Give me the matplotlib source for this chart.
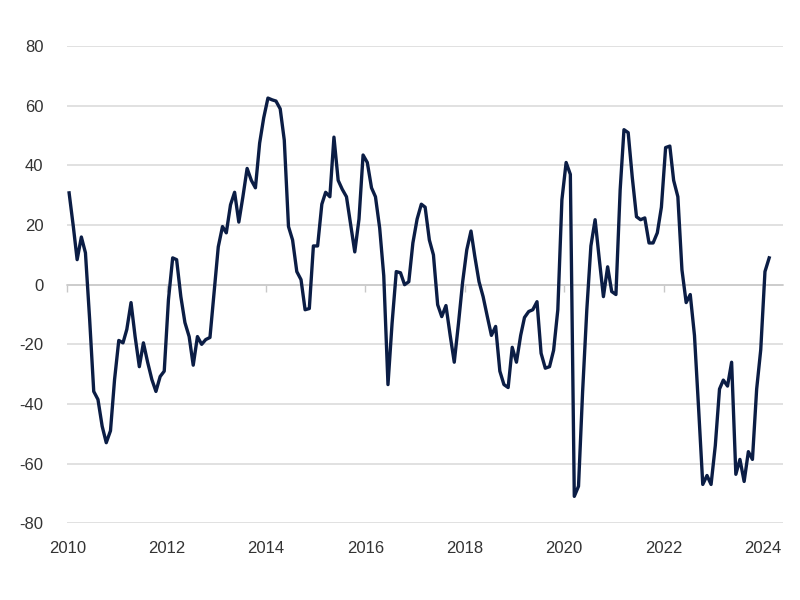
import matplotlib
matplotlib.use("Agg")
import matplotlib.pyplot as plt
import matplotlib.dates as mdates
import pandas as pd

plt.rcParams["font.family"] = ["Liberation Sans", "DejaVu Sans"]
plt.rcParams["axes.unicode_minus"] = False

# monthly values, Jan 2010 - Feb 2024
values = [30.8, 19.5, 8.4, 16, 10.7, -11.7, -35.8, -38.5, -47.5, -53,
          -49, -31.8, -18.7, -19.5, -15, -6, -17.4, -27.5, -19.5, -26,
          -31.8, -35.8, -30.8, -29, -5, 9, 8.4, -4, -12.7, -17.4,
          -27, -17.4, -20, -18.4, -17.7, -2.7, 12.7, 19.5, 17.4, 26.8,
          31, 21, 29.5, 39, 35, 32.5, 47.5, 56, 62.6, 62,
          61.6, 59, 48.5, 19.5, 15, 4.4, 1.7, -8.4, -8, 13,
          13, 27, 31, 29.5, 49.5, 35, 32, 29.5, 20, 11,
          22, 43.5, 41, 32.5, 29.5, 19, 3, -33.5, -13, 4.4,
          4, 0, 1, 14, 22, 27, 26, 15, 10, -6.7,
          -10.7, -7, -17, -26, -13, 0.7, 11.7, 18, 9.5, 1,
          -4, -10.7, -17, -14, -29, -33.5, -34.5, -21, -26, -17,
          -11, -9, -8.4, -5.7, -23, -28, -27.5, -22, -8.4, 28.5,
          41, 37, -71, -67.6, -36, -8.4, 13, 21.8, 8.4, -4,
          6, -2.3, -3.3, 31.8, 52, 51, 36, 22.8, 21.8, 22.4,
          14, 14, 17.4, 26, 46, 46.5, 35, 29.5, 5, -6,
          -3.3, -17, -42, -67, -64, -67, -54, -35, -32, -34,
          -26, -63.6, -58.6, -66, -56, -58.6, -35, -21.8, 4.4, 9]
dates = pd.date_range("2010-01-01", periods=len(values), freq="MS") + pd.Timedelta(days=14)
y_ticks = [-80, -60, -40, -20, 0, 20, 40, 60, 80]
x_tick_years = [2010, 2012, 2014, 2016, 2018, 2020, 2022, 2024]

fig = plt.figure(figsize=(8, 6), dpi=100)
ax = fig.add_axes([0.084, 0.128, 0.895, 0.795])

ax.plot(dates, values, color="#0b1d45", linewidth=2.4, solid_joinstyle="round", zorder=3)

ax.set_ylim(-80, 80)
ax.set_xlim(pd.Timestamp("2010-01-01"), pd.Timestamp("2024-05-28"))
ax.set_yticks(y_ticks)
ax.grid(axis="y", color="#d9d9d9", linewidth=1.1)
ax.tick_params(axis="y", length=0, pad=17, labelsize=12, labelcolor="#333333")

for s in ["top", "right", "left"]:
    ax.spines[s].set_visible(False)
ax.spines["bottom"].set_position(("data", 0))
ax.spines["bottom"].set_color("#c8c8c8")
ax.spines["bottom"].set_linewidth(1.1)

tick_dates = [pd.Timestamp(f"{yr}-01-01") for yr in x_tick_years]
ax.set_xticks(tick_dates)
ax.tick_params(axis="x", length=5, width=1, color="#c8c8c8", labelbottom=False)

sec = ax.secondary_xaxis("bottom")
sec.set_xticks(tick_dates)
sec.xaxis.set_major_formatter(mdates.DateFormatter("%Y"))
sec.tick_params(length=0, pad=13, labelsize=12, labelcolor="#333333")
sec.spines["bottom"].set_visible(False)

fig.savefig("out.png", dpi=100, facecolor="white")
